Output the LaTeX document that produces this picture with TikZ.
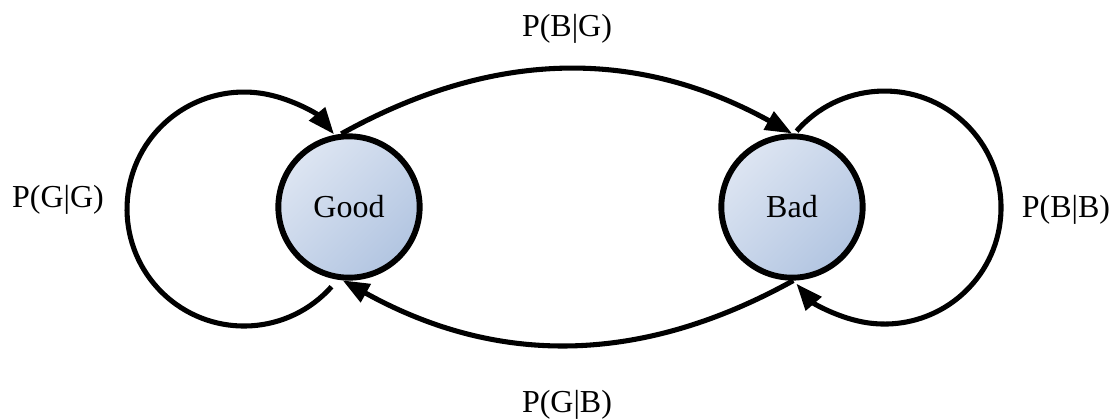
\documentclass[tikz,border=0pt]{standalone}
\usepackage{fontspec}
\setmainfont{Liberation Serif}
\usetikzlibrary{arrows.meta}

\definecolor{statelight}{RGB}{221,229,242}
\definecolor{statedark}{RGB}{178,197,225}

\tikzset{every picture/.style={line width=0.75pt}}
\tikzset{
  state/.style={circle, draw=black, line width=4.4pt, minimum size=106pt, inner sep=0pt,
    left color=statelight, right color=statedark, shading angle=45,
    font=\fontsize{24}{28}\selectfont},
  trans/.style={line width=3.8pt, -{Triangle[length=20pt,width=15pt]}},
  prob/.style={anchor=base, font=\fontsize{24}{28}\selectfont}
}

\begin{document}
\begin{tikzpicture}[x=0.75pt,y=0.75pt,yscale=-1,xscale=1]
	\useasboundingbox (0,0) rectangle (1117,419);

	%Shape: Circle [id:good] 
	\node [state] (good) at (349,207) {Good};
	%Shape: Circle [id:bad] 
	\node [state] (bad) at (792,207) {Bad};

	%Curve Lines [id:gg] 
	\coordinate (gg start) at (331.5,286.7);
	\draw [trans] (gg start) arc [start angle=41.6, end angle=320.3, radius=117];
	%Curve Lines [id:bb] 
	\coordinate (bb start) at (796.6,131.1);
	\draw [trans] (bb start) arc [start angle=221, end angle=499.2, radius=116.5];
	%Curve Lines [id:bg] 
	\draw [trans] (good.96) to [bend right=29] (bad.90);
	%Curve Lines [id:gb] 
	\draw [trans] (bad.271) to [bend right=29] (good.265);

	% Text Node
	\node [prob] (pbg) at (567,36) {P(B|G)};
	% Text Node
	\node [prob] (pgb) at (567,412) {P(G|B)};
	% Text Node
	\node [prob] (pgg) at (58,207) {P(G|G)};
	% Text Node
	\node [prob] (pbb) at (1066,217) {P(B|B)};

\end{tikzpicture}
\end{document}
